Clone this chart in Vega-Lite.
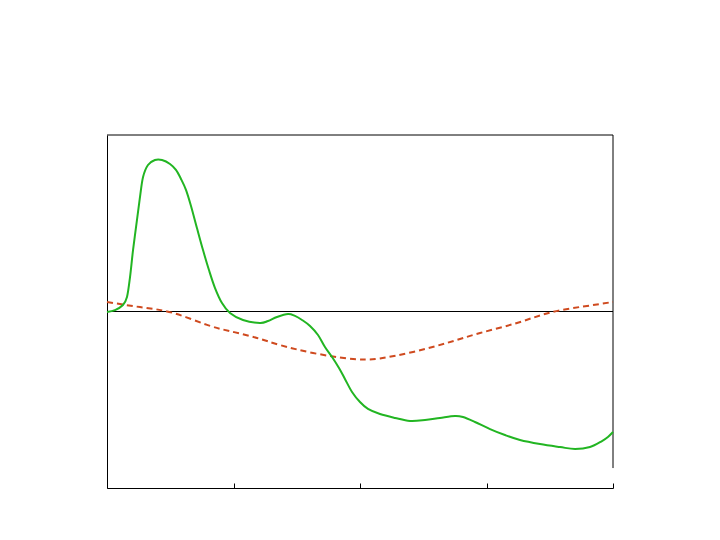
{
  "$schema": "https://vega.github.io/schema/vega-lite/v6.json",
  "width": 506,
  "height": 353,
  "autosize": {"type": "none"},
  "padding": {"left": 107, "top": 135, "right": 107, "bottom": 52},
  "background": "white",
  "config": {"view": {"stroke": null}},
  "datasets": {
    "green": [
      {"x": 0, "y": -0.003}, {"x": 0.063, "y": 0.008}, {"x": 0.126, "y": 0.037}, {"x": 0.158, "y": 0.082},
      {"x": 0.182, "y": 0.195}, {"x": 0.206, "y": 0.349}, {"x": 0.237, "y": 0.519}, {"x": 0.261, "y": 0.65}, {"x": 0.285, "y": 0.762},
      {"x": 0.324, "y": 0.83}, {"x": 0.379, "y": 0.858}, {"x": 0.435, "y": 0.858}, {"x": 0.498, "y": 0.836},
      {"x": 0.545, "y": 0.802}, {"x": 0.585, "y": 0.751}, {"x": 0.625, "y": 0.688}, {"x": 0.664, "y": 0.598},
      {"x": 0.711, "y": 0.473}, {"x": 0.759, "y": 0.348}, {"x": 0.806, "y": 0.235}, {"x": 0.854, "y": 0.133},
      {"x": 0.909, "y": 0.048}, {"x": 0.972, "y": -0.008}, {"x": 1.075, "y": -0.048}, {"x": 1.209, "y": -0.065},
      {"x": 1.273, "y": -0.054}, {"x": 1.344, "y": -0.031}, {"x": 1.431, "y": -0.014}, {"x": 1.486, "y": -0.025},
      {"x": 1.542, "y": -0.048}, {"x": 1.605, "y": -0.082}, {"x": 1.668, "y": -0.133}, {"x": 1.723, "y": -0.201},
      {"x": 1.779, "y": -0.258}, {"x": 1.834, "y": -0.32}, {"x": 1.881, "y": -0.382}, {"x": 1.937, "y": -0.456},
      {"x": 2.0, "y": -0.513}, {"x": 2.063, "y": -0.552}, {"x": 2.158, "y": -0.581}, {"x": 2.277, "y": -0.603},
      {"x": 2.395, "y": -0.62}, {"x": 2.514, "y": -0.615}, {"x": 2.632, "y": -0.603}, {"x": 2.751, "y": -0.592},
      {"x": 2.814, "y": -0.598}, {"x": 2.909, "y": -0.626}, {"x": 3.028, "y": -0.666}, {"x": 3.146, "y": -0.7},
      {"x": 3.265, "y": -0.728}, {"x": 3.423, "y": -0.751}, {"x": 3.581, "y": -0.768}, {"x": 3.7, "y": -0.779},
      {"x": 3.818, "y": -0.768}, {"x": 3.913, "y": -0.734}, {"x": 3.96, "y": -0.711}, {"x": 4.0, "y": -0.683}
    ],
    "red": [
      {"x": 0, "y": 0.054}, {"x": 0.261, "y": 0.025}, {"x": 0.522, "y": -0.008}, {"x": 0.791, "y": -0.076},
      {"x": 1.0, "y": -0.116}, {"x": 1.186, "y": -0.15}, {"x": 1.368, "y": -0.19}, {"x": 1.629, "y": -0.235}, {"x": 1.897, "y": -0.266},
      {"x": 2.03, "y": -0.272}, {"x": 2.158, "y": -0.266}, {"x": 2.419, "y": -0.229}, {"x": 2.688, "y": -0.178}, {"x": 2.949, "y": -0.122},
      {"x": 3.241, "y": -0.065}, {"x": 3.502, "y": -0.006}, {"x": 3.763, "y": 0.028}, {"x": 4.0, "y": 0.054}
    ],
    "frame": [
      {"x": 0, "x2": 4, "y": 1, "y2": 1},
      {"x": 4, "x2": 4, "y": 1, "y2": -0.887},
      {"x": 0, "x2": 4, "y": 0, "y2": 0}
    ]
  },
  "layer": [
    {
      "data": {"name": "frame"},
      "mark": {"type": "rule", "color": "black", "strokeWidth": 1},
      "encoding": {
        "x": {"field": "x", "type": "quantitative", "scale": {"domain": [0, 4], "nice": false, "zero": false},
              "axis": {"values": [0, 1, 2, 3, 4], "labels": false, "title": null, "grid": false, "tickSize": -5, "tickColor": "black", "domainColor": "black", "tickWidth": 1}},
        "x2": {"field": "x2"},
        "y": {"field": "y", "type": "quantitative", "scale": {"domain": [-1, 1], "nice": false, "zero": false},
              "axis": {"labels": false, "ticks": false, "title": null, "grid": false, "domainColor": "black"}},
        "y2": {"field": "y2"}
      }
    },
    {
      "data": {"name": "red"},
      "mark": {"type": "line", "color": "#cf4a1f", "strokeWidth": 2, "strokeDash": [6, 4], "interpolate": "natural"},
      "encoding": {
        "x": {"field": "x", "type": "quantitative"},
        "y": {"field": "y", "type": "quantitative"}
      }
    },
    {
      "data": {"name": "green"},
      "mark": {"type": "line", "color": "#22b522", "strokeWidth": 2, "interpolate": "cardinal"},
      "encoding": {
        "x": {"field": "x", "type": "quantitative"},
        "y": {"field": "y", "type": "quantitative"}
      }
    }
  ]
}
